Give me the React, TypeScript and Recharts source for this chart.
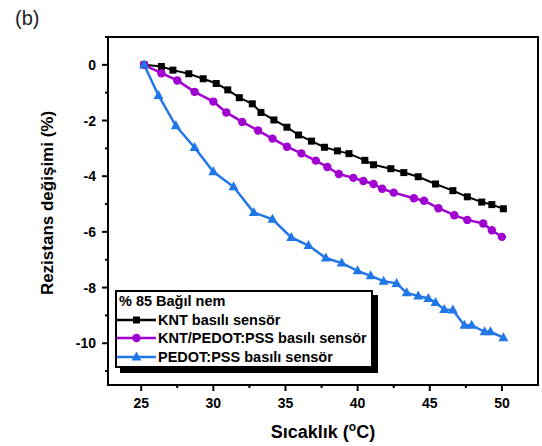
import { LineChart, Line, XAxis, YAxis, ReferenceArea } from "recharts";

// Sıcaklık (°C) and rezistans değişimi (%)
const kntTemp = [25.2, 26.4, 27.2, 28.3, 29.3, 30.2, 31.0, 31.8, 32.7, 33.3, 34.2, 35.1, 35.9, 36.8, 37.7, 38.6, 39.4, 40.5, 41.1, 42.3, 43.2, 44.2, 45.4, 46.6, 47.6, 48.6, 49.3, 50.1];
const kntVal = [0, -0.06, -0.19, -0.32, -0.5, -0.67, -0.9, -1.18, -1.4, -1.71, -1.98, -2.24, -2.52, -2.74, -2.96, -3.09, -3.19, -3.43, -3.59, -3.73, -3.87, -4.02, -4.28, -4.52, -4.74, -4.93, -5.02, -5.17];

const mixTemp = [25.2, 26.4, 27.5, 28.7, 30.0, 30.9, 32.0, 33.1, 34.1, 35.1, 36.1, 37.1, 37.9, 38.7, 39.7, 40.4, 41.1, 41.7, 42.5, 43.9, 44.6, 45.6, 46.7, 47.6, 48.7, 49.3, 50.0];
const mixVal = [0, -0.3, -0.56, -0.97, -1.32, -1.71, -2.05, -2.36, -2.65, -2.94, -3.18, -3.44, -3.67, -3.92, -4.06, -4.17, -4.28, -4.45, -4.59, -4.79, -4.88, -5.15, -5.4, -5.57, -5.7, -5.94, -6.18];

const pedotTemp = [25.2, 26.2, 27.4, 28.7, 30.0, 31.4, 32.8, 34.1, 35.4, 36.6, 37.8, 38.9, 40.0, 40.9, 41.8, 42.7, 43.4, 44.2, 44.9, 45.4, 46.0, 46.6, 47.4, 47.9, 48.8, 49.2, 50.1];
const pedotVal = [0, -1.1, -2.19, -2.97, -3.84, -4.38, -5.3, -5.55, -6.2, -6.49, -6.94, -7.12, -7.4, -7.58, -7.77, -7.85, -8.19, -8.3, -8.39, -8.54, -8.79, -8.81, -9.35, -9.35, -9.59, -9.59, -9.8];

const xTicks = [25, 27.5, 30, 32.5, 35, 37.5, 40, 42.5, 45, 47.5, 50];
const yTicks = [1, 0, -1, -2, -3, -4, -5, -6, -7, -8, -9, -10, -11];

const legendTitle = "% 85 Bağıl nem";
const seriesNames = ["KNT basılı sensör", "KNT/PEDOT:PSS basılı sensör", "PEDOT:PSS basılı sensör"];

const BLACK = "#000000";
const PURPLE = "#a000d0";
const BLUE = "#2277e8";
const FONT = "'Liberation Sans', Arial, sans-serif";

const toRows = (t: number[], v: number[]) => t.map((x, i) => ({ t: x, v: v[i] }));
const kntData = toRows(kntTemp, kntVal);
const mixData = toRows(mixTemp, mixVal);
const pedotData = toRows(pedotTemp, pedotVal);

const square = (p: any) => (
  <rect key={p.index} x={p.cx - 3.5} y={p.cy - 3.5} width={7} height={7} fill={BLACK} />
);
const circle = (p: any) => <circle key={p.index} cx={p.cx} cy={p.cy} r={4.2} fill={PURPLE} />;
const triangle = (p: any) => (
  <path
    key={p.index}
    d={`M${p.cx},${p.cy - 5.5}L${p.cx + 5},${p.cy + 3.5}L${p.cx - 5},${p.cy + 3.5}Z`}
    fill={BLUE}
  />
);

const XTick = (p: any) => {
  const v = p.payload.value;
  const major = v % 5 === 0;
  return (
    <g>
      <line x1={p.x} x2={p.x} y1={p.y} y2={p.y + (major ? 6 : 3)} stroke="#000" strokeWidth={2} />
      {major && (
        <text x={p.x} y={p.y + 23} textAnchor="middle" fontSize={14} fontWeight="bold" fontFamily={FONT} fill="#000">
          {v}
        </text>
      )}
    </g>
  );
};

const YTick = (p: any) => {
  const v = p.payload.value;
  const major = v % 2 === 0;
  return (
    <g>
      <line x1={p.x - (major ? 6 : 3)} x2={p.x} y1={p.y} y2={p.y} stroke="#000" strokeWidth={2} />
      {major && (
        <text x={p.x - 12} y={p.y + 5} textAnchor="end" fontSize={14} fontWeight="bold" fontFamily={FONT} fill="#000">
          {v}
        </text>
      )}
    </g>
  );
};

const LegendRow = ({ color, name, marker }: { color: string; name: string; marker: string }) => (
  <div style={{ display: "flex", alignItems: "center", height: 18.5 }}>
    <svg width={41} height={12} style={{ flex: "none" }}>
      <line x1={0} x2={39} y1={6} y2={6} stroke={color} strokeWidth={2.5} />
      {marker === "square" && <rect x={16} y={2.5} width={7} height={7} fill={color} />}
      {marker === "circle" && <circle cx={19.5} cy={6} r={4.2} fill={color} />}
      {marker === "triangle" && <path d="M19.5,0.5L24.5,9.5L14.5,9.5Z" fill={color} />}
    </svg>
    <span>{name}</span>
  </div>
);

export default function App() {
  return (
    <div style={{ position: "absolute", left: 0, top: 0, width: 542, height: 446, background: "#fff", fontFamily: FONT }}>
      <div style={{ position: "absolute", left: 15, top: 7, fontSize: 20, color: "#222" }}>(b)</div>
      <LineChart width={542} height={446} margin={{ top: 37, right: 4, bottom: 0, left: 0 }}>
        <ReferenceArea x1={22.7} x2={52.5} y1={-11.5} y2={1} fill="none" stroke="#000" strokeWidth={2} />
        <XAxis
          type="number"
          dataKey="t"
          domain={[22.7, 52.5]}
          ticks={xTicks}
          interval={0}
          height={61}
          stroke="#000"
          strokeWidth={2}
          tickLine={false}
          tickSize={0}
          tickMargin={0}
          tick={XTick}
          allowDataOverflow
          label={{
            content: (lp: any) => {
              const vb = lp.viewBox;
              return (
                <text x={vb.x + vb.width / 2} y={438} textAnchor="middle" fontSize={18} fontWeight="bold" fontFamily={FONT} fill="#000">
                  <tspan>Sıcaklık (</tspan>
                  <tspan dy={-7} fontSize={12}>o</tspan>
                  <tspan dy={7}>C)</tspan>
                </text>
              );
            },
          }}
        />
        <YAxis
          type="number"
          dataKey="v"
          domain={[-11.5, 1]}
          ticks={yTicks}
          interval={0}
          width={108}
          stroke="#000"
          strokeWidth={2}
          tickLine={false}
          tickSize={0}
          tickMargin={0}
          tick={YTick}
          allowDataOverflow
          label={{
            content: (lp: any) => {
              const vb = lp.viewBox;
              const cy = vb.y + vb.height / 2 - 8;
              return (
                <text
                  transform={`translate(53,${cy}) rotate(-90)`}
                  textAnchor="middle"
                  fontSize={17}
                  fontWeight="bold"
                  fontFamily={FONT}
                  fill="#000"
                >
                  Rezistans değişimi (%)
                </text>
              );
            },
          }}
        />
        <Line data={kntData} dataKey="v" stroke={BLACK} strokeWidth={2} dot={square} isAnimationActive={false} />
        <Line data={mixData} dataKey="v" stroke={PURPLE} strokeWidth={2.5} dot={circle} isAnimationActive={false} />
        <Line data={pedotData} dataKey="v" stroke={BLUE} strokeWidth={2.5} dot={triangle} isAnimationActive={false} />
      </LineChart>
      <div
        style={{
          position: "absolute",
          left: 115,
          top: 290,
          width: 254,
          height: 74,
          border: "2px solid #000",
          boxShadow: "5px 5px 0 0 #000",
          background: "#fff",
          fontSize: 14.5,
          fontWeight: "bold",
          color: "#000",
          lineHeight: "18.5px",
        }}
      >
        <div style={{ paddingLeft: 2 }}>{legendTitle}</div>
        <LegendRow color={BLACK} name={seriesNames[0]} marker="square" />
        <LegendRow color={PURPLE} name={seriesNames[1]} marker="circle" />
        <LegendRow color={BLUE} name={seriesNames[2]} marker="triangle" />
      </div>
    </div>
  );
}
